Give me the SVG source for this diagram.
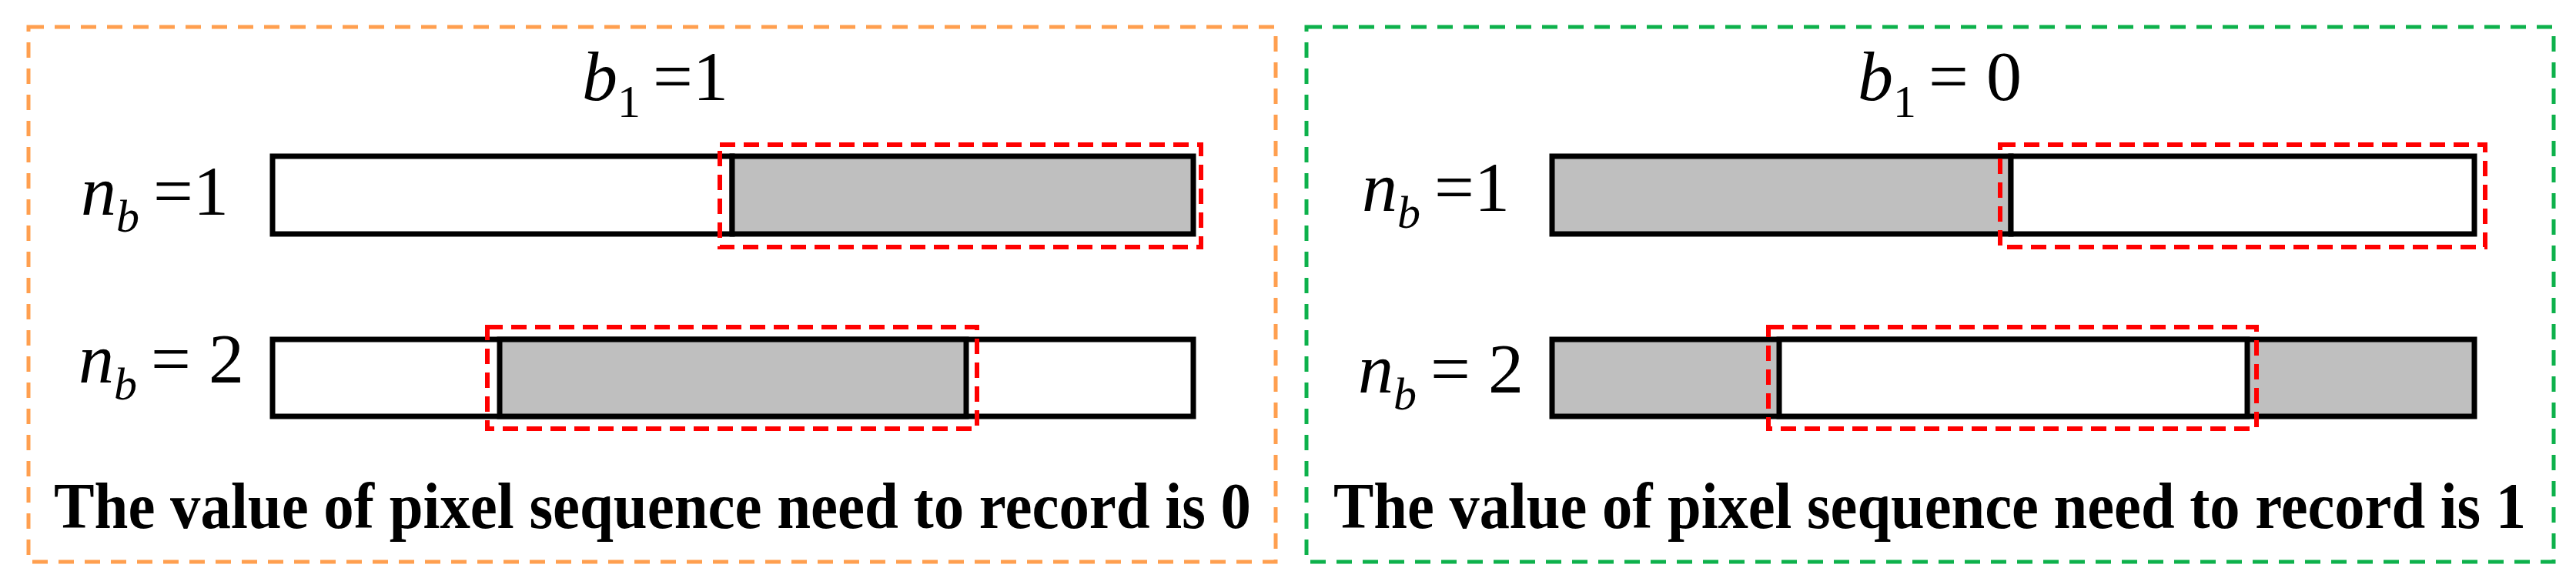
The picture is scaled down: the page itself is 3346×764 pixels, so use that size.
<svg xmlns="http://www.w3.org/2000/svg" width="3346" height="764" viewBox="0 0 3346 764">
<style>
.bar{stroke:#000;stroke-width:7;}
.sel{fill:none;stroke:#f00;stroke-width:6;stroke-dasharray:20 11;}
.m{font-family:"Liberation Serif",serif;font-size:92px;fill:#000;}
.i{font-style:italic;}
.cap{font-family:"Liberation Serif",serif;font-weight:bold;font-size:84px;fill:#000;}
</style>
<rect width="3346" height="764" fill="#fff"/>
<g id="panel-left">
<rect x="37" y="35" width="1620" height="695" fill="none" stroke="#ff9f4f" stroke-width="5" stroke-dasharray="20 14"/>
<text class="m" x="756" y="130"><tspan class="i">b</tspan><tspan font-size="60" dy="22">1</tspan><tspan dy="-22" dx="16">=1</tspan></text>
<text class="m" x="105" y="279"><tspan class="i">n</tspan><tspan class="i" font-size="60" dy="22">b</tspan><tspan dy="-22" dx="18">=1</tspan></text>
<text class="m" x="102" y="497"><tspan class="i">n</tspan><tspan class="i" font-size="60" dy="22">b</tspan><tspan dy="-22" dx="18">= 2</tspan></text>
<rect class="bar" x="354" y="203" width="597" height="101" fill="#fff"/>
<rect class="bar" x="951" y="203" width="599" height="101" fill="#bfbfbf"/>
<rect class="bar" x="354" y="441" width="1196" height="100" fill="#fff"/>
<rect class="bar" x="649" y="441" width="606" height="100" fill="#bfbfbf"/>
<rect class="sel" x="935" y="188" width="625" height="133"/>
<rect class="sel" x="633" y="425" width="636" height="132"/>
<text class="cap" x="70" y="686" textLength="1555" lengthAdjust="spacingAndGlyphs">The value of pixel sequence need to record is 0</text>
</g>
<g id="panel-right">
<rect x="1697" y="35" width="1620" height="695" fill="none" stroke="#0db14b" stroke-width="5" stroke-dasharray="20 14"/>
<text class="m" x="2413" y="130"><tspan class="i">b</tspan><tspan font-size="60" dy="22">1</tspan><tspan dy="-22" dx="16">= 0</tspan></text>
<text class="m" x="1769" y="274"><tspan class="i">n</tspan><tspan class="i" font-size="60" dy="22">b</tspan><tspan dy="-22" dx="18">=1</tspan></text>
<text class="m" x="1764" y="510"><tspan class="i">n</tspan><tspan class="i" font-size="60" dy="22">b</tspan><tspan dy="-22" dx="18">= 2</tspan></text>
<rect class="bar" x="2016" y="203" width="596" height="101" fill="#bfbfbf"/>
<rect class="bar" x="2612" y="203" width="602" height="101" fill="#fff"/>
<rect class="bar" x="2016" y="441" width="1198" height="100" fill="#bfbfbf"/>
<rect class="bar" x="2311" y="441" width="608" height="100" fill="#fff"/>
<rect class="sel" x="2598" y="188" width="630" height="133"/>
<rect class="sel" x="2297" y="425" width="634" height="132"/>
<text class="cap" x="1732" y="686" textLength="1549" lengthAdjust="spacingAndGlyphs">The value of pixel sequence need to record is 1</text>
</g>
</svg>
